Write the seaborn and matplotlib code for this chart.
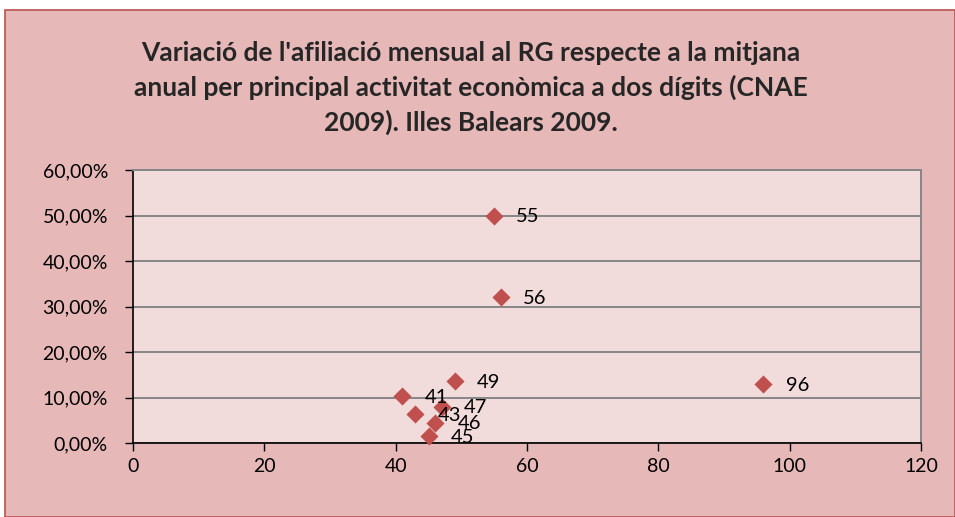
import numpy as np
import pandas as pd
import matplotlib
import matplotlib.pyplot as plt
import seaborn as sns
from matplotlib.patches import Rectangle
from matplotlib.ticker import FuncFormatter, MultipleLocator

matplotlib.use('Agg')
sns.set_theme(style='white')
plt.rcParams['font.family'] = ['Lato', 'DejaVu Sans']

# activity codes (CNAE 2009, two digits) and monthly affiliation variation (%)
codes = [55, 56, 49, 96, 41, 47, 43, 46, 45]
variation = [50.0, 32.1, 13.6, 13.0, 10.3, 8.0, 6.4, 4.5, 1.6]
labels = [str(c) for c in codes]

df = pd.DataFrame({'code': codes, 'variation': variation, 'label': labels})

OUTER_BG = '#E6B8B7'
PLOT_BG = '#F2DCDB'
MARKER = '#C0504D'
GRID = '#868686'

fig = plt.figure(figsize=(9.55, 5.17), dpi=100)
fig.patch.set_facecolor('white')
fig.patches.append(Rectangle((5 / 955, 0), 1 - 5 / 955, 1 - 10 / 517, transform=fig.transFigure,
                             facecolor=OUTER_BG, edgecolor='#B85450', linewidth=1.2, zorder=-1))

ax = fig.add_axes([133 / 955, 1 - 443 / 517, (921 - 133) / 955, (443 - 170) / 517])
ax.set_facecolor(PLOT_BG)

sns.scatterplot(data=df, x='code', y='variation', marker='D', s=85, color=MARKER,
                edgecolor=MARKER, linewidth=0, ax=ax, zorder=3, clip_on=False)

# labels sit to the right of each point, as in the original (they overlap in the cluster)
for _, row in df.iterrows():
    ax.annotate(row['label'], (row['code'], row['variation']), xytext=(16, -1),
                textcoords='offset points', ha='left', va='center', fontsize=14.5, color='black', zorder=4)

ax.set_xlim(0, 120)
ax.set_ylim(0, 60)
ax.xaxis.set_major_locator(MultipleLocator(20))
ax.yaxis.set_major_locator(MultipleLocator(10))
ax.yaxis.set_major_formatter(FuncFormatter(lambda v, _: f'{v:.2f}'.replace('.', ',') + '%'))

ax.grid(axis='y', color=GRID, linewidth=1.4)
ax.grid(axis='x', visible=False)
ax.set_axisbelow(True)
ax.set_xlabel('')
ax.set_ylabel('')

for side in ['left', 'bottom']:
    ax.spines[side].set_color('black')
    ax.spines[side].set_linewidth(1.2)
for side in ['right', 'top']:
    ax.spines[side].set_color(GRID)
    ax.spines[side].set_linewidth(1.4)

ax.tick_params(axis='both', which='major', direction='out', length=6, width=1, color='black',
               labelsize=14, labelcolor='black', left=True, bottom=True)
ax.tick_params(axis='y', pad=12)
ax.tick_params(axis='x', pad=5)

fig.text(471 / 955, 1 - 88 / 517,
         "Variació de l'afiliació mensual al RG respecte a la mitjana\n"
         "anual per principal activitat econòmica a dos dígits (CNAE\n"
         "2009). Illes Balears 2009.",
         ha='center', va='center', fontsize=19, fontweight='bold', linespacing=1.45)

plt.savefig('out.png', dpi=100, facecolor=fig.get_facecolor())
plt.close()
